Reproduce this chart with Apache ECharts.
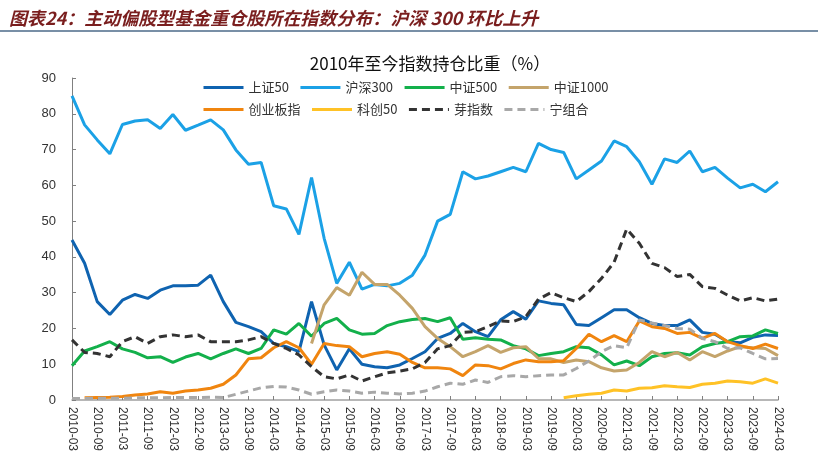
<!DOCTYPE html>
<html>
<head>
<meta charset="utf-8">
<script src="https://cdn.jsdelivr.net/npm/echarts@6/dist/echarts.min.js"></script>
<style>html,body{margin:0;padding:0;background:#fff;}#c{width:818px;height:461px;}</style>
</head>
<body>
<div id="c"></div>
<script>
var categories = ["2010-03","2010-06","2010-09","2010-12","2011-03","2011-06","2011-09","2011-12","2012-03","2012-06","2012-09","2012-12","2013-03","2013-06","2013-09","2013-12","2014-03","2014-06","2014-09","2014-12","2015-03","2015-06","2015-09","2015-12","2016-03","2016-06","2016-09","2016-12","2017-03","2017-06","2017-09","2017-12","2018-03","2018-06","2018-09","2018-12","2019-03","2019-06","2019-09","2019-12","2020-03","2020-06","2020-09","2020-12","2021-03","2021-06","2021-09","2021-12","2022-03","2022-06","2022-09","2022-12","2023-03","2023-06","2023-09","2023-12","2024-03"];
var yTicks = [0, 10, 20, 30, 40, 50, 60, 70, 80, 90];
var seriesNames = ["上证50","沪深300","中证500","中证1000","创业板指","科创50","芽指数","宁组合"];

var sz50 = [44.7,38.2,27.5,23.9,27.9,29.5,28.4,30.7,31.9,31.9,
  32.1,34.9,27.5,21.7,20.5,19.1,15.8,14.9,13.5,27.5,
  15.4,8.4,14.3,10.0,9.3,9.0,9.8,11.6,13.5,17.2,
  18.6,21.4,19.1,17.7,22.4,24.7,22.6,27.7,27.0,26.6,
  21.1,20.8,23.0,25.2,25.2,23.0,21.4,20.8,20.8,22.4,
  18.9,18.4,16.3,16.0,17.5,18.2,18.0];
var hs300 = [85.0,76.9,72.7,68.8,77.0,78.0,78.3,75.9,79.8,75.4,
  76.8,78.3,75.5,69.9,65.9,66.4,54.3,53.4,46.3,62.2,
  45.2,32.6,38.5,31.0,32.3,31.9,32.6,34.9,40.5,50.0,
  51.9,63.8,61.8,62.6,63.8,65.0,63.8,71.7,70.0,69.2,
  61.8,64.3,66.8,72.4,70.8,66.6,60.3,67.4,66.4,69.6,
  63.8,65.0,62.0,59.3,60.3,58.2,61.0];
var zz500 = [9.6,13.7,14.9,16.3,14.3,13.3,11.8,12.1,10.5,12.0,
  13.0,11.5,13.0,14.3,13.0,14.4,19.6,18.4,21.4,17.8,
  21.4,22.8,19.6,18.4,18.6,20.8,21.9,22.5,22.8,21.9,
  23.0,17.0,17.4,17.0,16.8,15.2,14.3,12.4,13.0,13.5,
  14.9,14.6,12.6,9.8,10.9,9.6,12.1,13.0,13.2,12.6,
  14.9,15.8,16.3,17.7,17.9,19.6,18.6];
var zz1000 = [null,null,null,null,null,null,null,null,null,null,
  null,null,null,null,null,null,null,null,null,15.8,
  26.6,31.4,29.3,35.7,32.3,32.3,29.3,25.6,20.5,17.2,
  14.9,12.1,13.5,15.2,13.3,14.6,14.9,11.6,11.5,10.5,
  11.2,10.7,9.0,8.1,8.4,10.5,13.5,12.1,13.3,11.2,
  13.5,12.1,13.7,14.9,14.6,14.4,12.4];
var cyb = [null,0.6,0.7,0.8,1.0,1.4,1.7,2.3,1.9,2.5,
  2.8,3.3,4.4,7.0,11.5,11.8,14.6,16.3,14.6,10.0,
  15.8,15.2,14.9,12.1,13.0,13.5,12.8,10.5,9.0,9.0,
  8.7,6.8,9.8,9.6,8.7,10.2,11.2,10.7,10.7,11.0,
  14.4,18.4,16.3,18.0,16.3,22.1,20.5,20.0,18.6,18.9,
  17.2,18.6,16.3,15.2,14.4,15.6,14.4];
var kc50 = [null,null,null,null,null,null,null,null,null,null,
  null,null,null,null,null,null,null,null,null,null,
  null,null,null,null,null,null,null,null,null,null,
  null,null,null,null,null,null,null,null,null,0.6,
  1.2,1.6,1.9,2.8,2.5,3.3,3.4,4.0,3.7,3.5,
  4.4,4.7,5.3,5.1,4.7,5.9,4.7];
var yaIndex = [16.8,13.3,13.0,12.1,16.3,17.7,15.8,17.7,18.2,17.7,
  18.2,16.3,16.3,16.3,16.8,17.7,15.8,14.4,12.6,9.3,
  6.5,5.9,7.0,5.3,6.5,7.6,8.1,8.7,10.5,14.3,
  15.2,18.9,19.1,20.5,22.1,21.9,23.3,28.2,30.0,28.6,
  27.5,30.3,34.0,38.5,47.8,43.8,38.2,37.0,34.5,35.1,
  31.7,31.2,29.3,27.7,28.6,27.7,28.2];
var ningZuhe = [0.4,0.4,0.5,0.5,0.5,0.6,0.6,0.6,0.7,0.7,
  0.7,0.8,0.7,1.6,2.5,3.4,3.8,3.6,2.8,1.6,
  2.3,2.8,2.5,1.9,2.2,1.9,1.7,1.9,2.5,3.7,
  4.7,4.4,5.6,4.9,6.5,6.8,6.5,6.8,7.0,7.0,
  8.8,10.9,13.5,15.2,14.6,22.4,21.5,20.8,20.0,19.8,
  17.2,16.3,14.4,14.6,13.0,11.5,11.6];

var allData = [sz50, hs300, zz500, zz1000, cyb, kc50, yaIndex, ningZuhe];
var colors = ["#0F63B0","#1BA1E6","#13B04B","#C4A46B","#F0850F","#FFC226","#333333","#A8A8A8"];
var dashed = [false,false,false,false,false,false,true,true];

var cjk = "'Noto Sans CJK SC', sans-serif";
var latin = "'Liberation Sans', 'Noto Sans CJK SC', sans-serif";

var series = seriesNames.map(function(n, k){
  return {
    name: n, type: 'line', data: allData[k], symbol: 'none', connectNulls: false,
    lineStyle: { color: colors[k], width: 3, type: dashed[k] ? [8, 5] : 'solid' },
    itemStyle: { color: colors[k] },
    z: dashed[k] ? 3 : 2
  };
});

function legendRow(names, top){
  return {
    left: 197, top: top, orient: 'horizontal', itemWidth: 40, itemHeight: 12, itemGap: 10,
    data: names, selectedMode: false,
    itemStyle: { opacity: 0 },
    lineStyle: { width: 3 },
    textStyle: { fontFamily: cjk, fontSize: 13, color: '#333', width: 82 }
  };
}

var chart = echarts.init(document.getElementById('c'), null, {renderer: 'canvas'});
chart.setOption({
  animation: false,
  backgroundColor: '#fff',
  title: [
    { text: '图表24：主动偏股型基金重仓股所在指数分布：沪深 300 环比上升', left: 4, top: 4,
      textStyle: { fontFamily: cjk, fontSize: 18, fontWeight: 'bold', fontStyle: 'italic', color: '#7A1E1E' } },
    { text: '2010年至今指数持仓比重（%）', left: 425, top: 50, textAlign: 'center',
      textStyle: { fontFamily: cjk, fontSize: 17, fontWeight: 'normal', color: '#111' } }
  ],
  graphic: [
    { type: 'line', shape: { x1: 0, y1: 31, x2: 818, y2: 31 }, style: { stroke: '#4B6A88', lineWidth: 1.5 } }
  ],
  legend: [ legendRow(seriesNames.slice(0,4), 76), legendRow(seriesNames.slice(4), 98) ],
  grid: { left: 72, right: 40, top: 78, bottom: 61, containLabel: false },
  xAxis: {
    type: 'category', data: categories, boundaryGap: false,
    axisLine: { show: true, lineStyle: { color: '#A0A0A0', width: 1.5 } },
    axisTick: { show: true, inside: true, interval: 1, length: 4, lineStyle: { color: '#808080' } },
    axisLabel: { interval: 1, rotate: -90, margin: 7, fontFamily: latin, fontSize: 12, color: '#333' },
    splitLine: { show: false }
  },
  yAxis: {
    type: 'value', min: yTicks[0], max: yTicks[yTicks.length-1], interval: 10,
    axisLine: { show: true, lineStyle: { color: '#808080', width: 1 } },
    axisTick: { show: true, inside: true, length: 4, lineStyle: { color: '#808080' } },
    axisLabel: { margin: 16, fontFamily: latin, fontSize: 13, color: '#333' },
    splitLine: { show: false }
  },
  series: series
});
</script>
</body>
</html>
